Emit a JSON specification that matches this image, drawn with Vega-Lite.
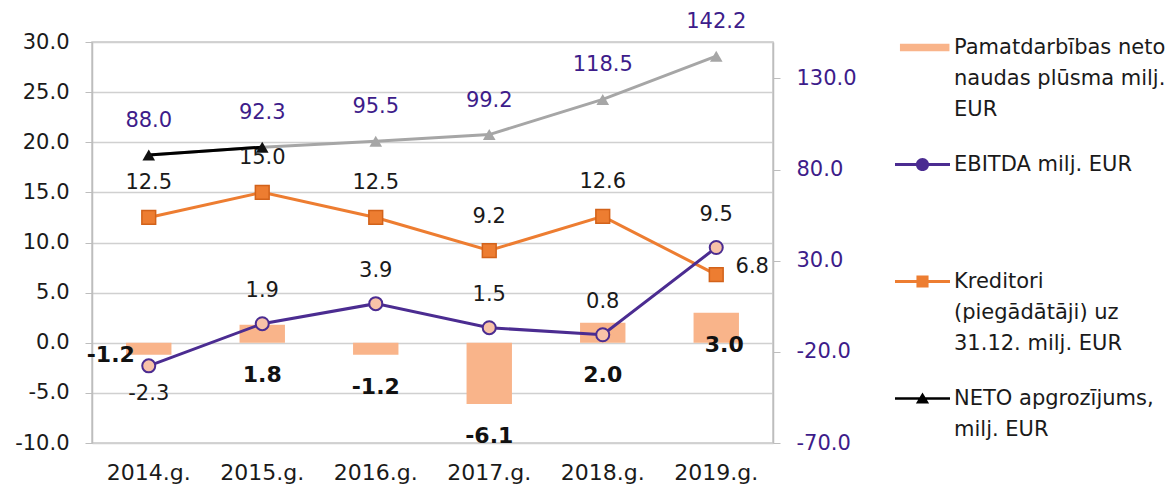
{
  "$schema": "https://vega.github.io/schema/vega-lite/v6.json",
  "width": 681,
  "height": 401,
  "autosize": {"type": "none"},
  "padding": {"left": 92, "top": 42, "right": 400, "bottom": 52},
  "config": {
    "font": "DejaVu Sans",
    "locale": {"number": {"decimal": ".", "thousands": ",", "grouping": [3], "currency": ["", ""], "minus": "-"}},
    "view": {"stroke": "#C8C8C8", "strokeWidth": 1.5},
    "axis": {"labelFont": "DejaVu Sans", "labelFontSize": 21, "labelColor": "#1a1a1a"},
    "text": {"font": "DejaVu Sans", "fontSize": 21}
  },
  "data": {"values": [
    {"year": "2014.g.", "cash": -1.2, "ebitda": -2.3, "kred": 12.5, "neto": 88.0},
    {"year": "2015.g.", "cash": 1.8, "ebitda": 1.9, "kred": 15.0, "neto": 92.3},
    {"year": "2016.g.", "cash": -1.2, "ebitda": 3.9, "kred": 12.5, "neto": 95.5},
    {"year": "2017.g.", "cash": -6.1, "ebitda": 1.5, "kred": 9.2, "neto": 99.2},
    {"year": "2018.g.", "cash": 2.0, "ebitda": 0.8, "kred": 12.6, "neto": 118.5},
    {"year": "2019.g.", "cash": 3.0, "ebitda": 9.5, "kred": 6.8, "neto": 142.2}
  ]},
  "encoding": {
    "x": {"field": "year", "type": "ordinal", "title": null,
      "scale": {"paddingInner": 0.6, "paddingOuter": 0.3},
      "axis": {"domain": false, "ticks": false, "labelPadding": 19, "labelAngle": 0, "labelFontSize": 22}}
  },
  "layer": [
    {
      "layer": [
        {
          "mark": {"type": "bar"},
          "encoding": {
            "y": {"field": "cash", "type": "quantitative", "title": null,
              "scale": {"domain": [-10, 30], "nice": false},
              "axis": {"values": [-10, -5, 0, 5, 10, 15, 20, 25, 30], "format": ".1f", "grid": true, "gridColor": "#D0D0D0", "gridWidth": 1.5, "domainColor": "#BDBDBD", "domainWidth": 1.5, "tickColor": "#BDBDBD", "tickSize": 7, "labelPadding": 16}},
            "color": {"datum": "Pamatdarbības neto naudas plūsma milj. EUR", "type": "nominal",
              "scale": {"domain": ["Pamatdarbības neto naudas plūsma milj. EUR", "EBITDA milj. EUR", "Kreditori (piegādātāji) uz 31.12. milj. EUR", "NETO apgrozījums, milj. EUR"],
                        "range": ["#F9B48A", "#4B2C91", "#ED7D31", "#000000"]},
              "legend": {
                "orient": "none", "legendX": 803, "legendY": -22, "title": null,
                "symbolSize": 3025, "labelFont": "DejaVu Sans", "labelFontSize": 21, "labelColor": "#1a1a1a",
                "labelLimit": 400, "labelOffset": 4, "rowPadding": 17, "padding": 0,
                "labelExpr": "datum.label == 'EBITDA milj. EUR' ? ['EBITDA milj. EUR', '', ''] : datum.label == 'Pamatdarbības neto naudas plūsma milj. EUR' ? ['Pamatdarbības neto', 'naudas plūsma milj.', 'EUR'] : datum.label == 'Kreditori (piegādātāji) uz 31.12. milj. EUR' ? ['Kreditori', '(piegādātāji) uz', '31.12. milj. EUR'] : ['NETO apgrozījums,', 'milj. EUR']",
                "encode": {
                  "symbols": {"update": {
                    "shape": {"signal": "datum.value == 'EBITDA milj. EUR' ? 'M-1,-0.055H1V0.055H-1Z M0.24,0A0.24,0.24,0,1,1,-0.24,0A0.24,0.24,0,1,1,0.24,0Z' : datum.value == 'Kreditori (piegādātāji) uz 31.12. milj. EUR' ? 'M-1,-0.055H1V0.055H-1Z M-0.22,-0.22H0.22V0.22H-0.22Z' : datum.value == 'NETO apgrozījums, milj. EUR' ? 'M-1,-0.045H1V0.045H-1Z M0,-0.22L0.24,0.18H-0.24Z' : 'M-0.82,-0.14H0.98V0.14H-0.82Z'"},
                    "fill": {"signal": "scale('color', datum.value)"},
                    "stroke": {"value": "transparent"},
                    "strokeWidth": {"value": 0},
                    "opacity": {"value": 1}
                  }},
                  "labels": {"update": {"lineHeight": {"value": 31}}}
                }
              }
            }
          }
        },
        {
          "mark": {"type": "line", "strokeWidth": 3},
          "encoding": {
            "y": {"field": "kred", "type": "quantitative", "title": null},
            "color": {"datum": "Kreditori (piegādātāji) uz 31.12. milj. EUR", "type": "nominal"}
          }
        },
        {
          "mark": {"type": "point", "shape": "square", "filled": true, "fill": "#ED7D31", "stroke": "#D2621A", "strokeWidth": 1.5, "size": 190, "opacity": 1},
          "encoding": {"y": {"field": "kred", "type": "quantitative", "title": null}}
        },
        {
          "mark": {"type": "line", "strokeWidth": 3},
          "encoding": {
            "y": {"field": "ebitda", "type": "quantitative", "title": null},
            "color": {"datum": "EBITDA milj. EUR", "type": "nominal"}
          }
        },
        {
          "mark": {"type": "point", "shape": "circle", "filled": true, "fill": "#F8C2A8", "stroke": "#4B2C91", "strokeWidth": 2, "size": 170, "opacity": 1},
          "encoding": {"y": {"field": "ebitda", "type": "quantitative", "title": null}}
        },
        {
          "transform": [{"filter": "datum.year != '2019.g.'"}],
          "mark": {"type": "text", "dy": -34, "color": "#1a1a1a"},
          "encoding": {
            "y": {"field": "kred", "type": "quantitative", "title": null},
            "text": {"field": "kred", "type": "quantitative", "format": ".1f"}
          }
        },
        {
          "transform": [{"filter": "datum.year == '2019.g.'"}],
          "mark": {"type": "text", "dx": 36, "dy": -8, "color": "#1a1a1a"},
          "encoding": {
            "y": {"field": "kred", "type": "quantitative", "title": null},
            "text": {"field": "kred", "type": "quantitative", "format": ".1f"}
          }
        },
        {
          "transform": [{"filter": "datum.year != '2014.g.'"}],
          "mark": {"type": "text", "dy": -33, "color": "#1a1a1a"},
          "encoding": {
            "y": {"field": "ebitda", "type": "quantitative", "title": null},
            "text": {"field": "ebitda", "type": "quantitative", "format": ".1f"}
          }
        },
        {
          "transform": [{"filter": "datum.year == '2014.g.'"}],
          "mark": {"type": "text", "dy": 28, "color": "#1a1a1a"},
          "encoding": {
            "y": {"field": "ebitda", "type": "quantitative", "title": null},
            "text": {"field": "ebitda", "type": "quantitative", "format": ".1f"}
          }
        },
        {
          "transform": [{"filter": "datum.year == '2014.g.'"}],
          "mark": {"type": "text", "dx": -38, "dy": 0, "fontWeight": "bold", "fontSize": 22, "color": "#111111"},
          "encoding": {
            "y": {"field": "cash", "type": "quantitative", "title": null},
            "text": {"field": "cash", "type": "quantitative", "format": ".1f"}
          }
        },
        {
          "transform": [{"filter": "datum.year == '2016.g.' || datum.year == '2017.g.'"}],
          "mark": {"type": "text", "dy": 32, "fontWeight": "bold", "fontSize": 22, "color": "#111111"},
          "encoding": {
            "y": {"field": "cash", "type": "quantitative", "title": null},
            "text": {"field": "cash", "type": "quantitative", "format": ".1f"}
          }
        },
        {
          "transform": [{"filter": "datum.year == '2015.g.' || datum.year == '2018.g.'"}],
          "mark": {"type": "text", "dy": 32, "fontWeight": "bold", "fontSize": 22, "color": "#111111"},
          "encoding": {
            "y": {"datum": 0, "type": "quantitative", "title": null},
            "text": {"field": "cash", "type": "quantitative", "format": ".1f"}
          }
        },
        {
          "transform": [{"filter": "datum.year == '2019.g.'"}],
          "mark": {"type": "text", "dx": 8, "dy": 2, "fontWeight": "bold", "fontSize": 22, "color": "#111111"},
          "encoding": {
            "y": {"datum": 0, "type": "quantitative", "title": null},
            "text": {"field": "cash", "type": "quantitative", "format": ".1f"}
          }
        }
      ]
    },
    {
      "layer": [
        {
          "mark": {"type": "line", "strokeWidth": 3, "color": "#A6A6A6"},
          "encoding": {
            "y": {"field": "neto", "type": "quantitative", "title": null,
              "scale": {"domain": [-70, 150], "nice": false},
              "axis": {"orient": "right", "values": [-70, -20, 30, 80, 130], "format": ".1f", "grid": false, "labelColor": "#3D1C8A", "domainColor": "#BDBDBD", "domainWidth": 1.5, "tickColor": "#BDBDBD", "tickSize": 7, "labelPadding": 16}}
          }
        },
        {
          "transform": [{"filter": "datum.year == '2014.g.' || datum.year == '2015.g.'"}],
          "mark": {"type": "line", "strokeWidth": 3},
          "encoding": {
            "y": {"field": "neto", "type": "quantitative", "title": null},
            "color": {"datum": "NETO apgrozījums, milj. EUR", "type": "nominal"}
          }
        },
        {
          "mark": {"type": "point", "shape": "triangle-up", "filled": true, "size": 160, "opacity": 1},
          "encoding": {
            "y": {"field": "neto", "type": "quantitative", "title": null},
            "color": {"condition": {"test": "datum.year == '2014.g.' || datum.year == '2015.g.'", "value": "#111111"}, "value": "#A6A6A6"}
          }
        },
        {
          "mark": {"type": "text", "dy": -34, "color": "#3D1C8A"},
          "encoding": {
            "y": {"field": "neto", "type": "quantitative", "title": null},
            "text": {"field": "neto", "type": "quantitative", "format": ".1f"}
          }
        }
      ]
    }
  ],
  "resolve": {"scale": {"y": "independent"}}
}
